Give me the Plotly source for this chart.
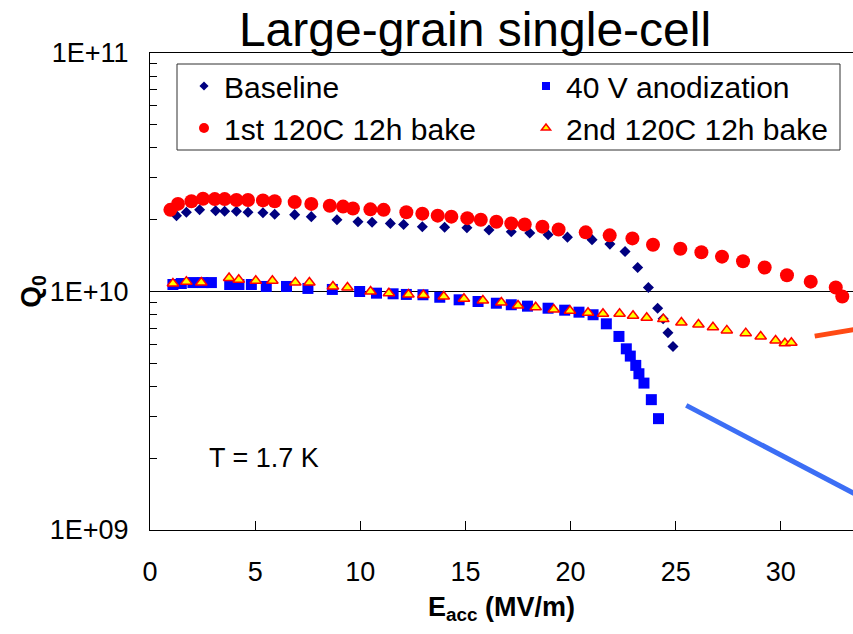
import plotly.graph_objects as go

# Accelerating field E_acc (MV/m) and quality factor Q0 for each treatment
e_base = [1.26, 1.73, 2.36, 3.12, 3.55, 4.11, 4.66, 5.37, 5.93, 6.88, 7.67, 8.89, 9.89,
          10.56, 11.43, 12.06, 12.95, 14.01, 15.07, 16.12, 17.18, 18.06, 18.93, 19.85,
          21.02, 21.87, 22.59, 23.19, 23.70, 24.14, 24.40, 24.63, 24.87]
q_base = [2.08e10, 2.15e10, 2.20e10, 2.18e10, 2.17e10, 2.17e10, 2.15e10, 2.14e10, 2.11e10,
          2.10e10, 2.06e10, 2.00e10, 1.96e10, 1.95e10, 1.93e10, 1.91e10, 1.87e10, 1.86e10,
          1.85e10, 1.81e10, 1.78e10, 1.76e10, 1.73e10, 1.69e10, 1.65e10, 1.58e10, 1.47e10,
          1.26e10, 1.04e10, 8.5e9, 7.68e9, 6.71e9, 5.88e9]

e_anod = [1.09, 1.49, 2.04, 2.52, 2.92, 3.79, 4.23, 4.82, 5.53, 6.49, 7.51, 8.67, 9.97,
          10.77, 11.56, 12.19, 12.98, 13.78, 14.70, 15.60, 16.47, 17.18, 17.95, 18.93,
          19.72, 20.40, 21.07, 21.70, 22.30, 22.65, 22.84, 23.10, 23.25, 23.49, 23.84, 24.18]
q_anod = [1.07e10, 1.08e10, 1.09e10, 1.09e10, 1.09e10, 1.07e10, 1.07e10, 1.07e10, 1.05e10,
          1.05e10, 1.03e10, 1.02e10, 1.00e10, 9.84e9, 9.78e9, 9.72e9, 9.69e9, 9.46e9, 9.23e9,
          9.08e9, 8.93e9, 8.80e9, 8.68e9, 8.51e9, 8.35e9, 8.19e9, 7.99e9, 7.32e9, 6.48e9,
          5.75e9, 5.36e9, 4.90e9, 4.52e9, 4.13e9, 3.52e9, 2.93e9]

e_bake1 = [0.97, 1.33, 1.97, 2.52, 3.08, 3.55, 4.11, 4.66, 5.37, 5.93, 6.88, 7.67, 8.55,
           9.18, 9.65, 10.48, 11.11, 12.19, 12.95, 13.68, 14.33, 15.09, 15.73, 16.47,
           17.18, 17.82, 18.66, 19.43, 20.72, 21.86, 22.94, 23.92, 25.22, 26.22, 27.20,
           28.20, 29.23, 30.29, 31.42, 32.61, 32.92]
q_bake1 = [2.20e10, 2.33e10, 2.39e10, 2.45e10, 2.44e10, 2.44e10, 2.42e10, 2.42e10, 2.41e10,
           2.39e10, 2.37e10, 2.33e10, 2.29e10, 2.27e10, 2.23e10, 2.21e10, 2.20e10, 2.15e10,
           2.12e10, 2.08e10, 2.06e10, 2.03e10, 2.00e10, 1.96e10, 1.93e10, 1.91e10, 1.87e10,
           1.82e10, 1.77e10, 1.72e10, 1.67e10, 1.57e10, 1.51e10, 1.46e10, 1.40e10, 1.34e10,
           1.26e10, 1.17e10, 1.10e10, 1.04e10, 9.53e9]

e_bake2 = [1.09, 1.73, 2.44, 3.76, 4.22, 5.03, 5.82, 6.91, 7.58, 8.70, 9.39, 10.49, 11.36,
           12.29, 13.00, 13.97, 14.93, 15.83, 16.71, 17.50, 18.34, 19.20, 19.97, 20.83,
           21.54, 22.33, 22.97, 23.62, 24.41, 25.27, 26.08, 26.77, 27.43, 28.33, 29.04,
           29.75, 30.19, 30.50]
q_bake2 = [1.08e10, 1.10e10, 1.09e10, 1.14e10, 1.12e10, 1.11e10, 1.11e10, 1.09e10, 1.09e10,
           1.05e10, 1.04e10, 1.00e10, 9.84e9, 9.72e9, 9.66e9, 9.53e9, 9.32e9, 9.17e9, 8.99e9,
           8.74e9, 8.59e9, 8.41e9, 8.30e9, 8.14e9, 8.07e9, 8.07e9, 7.91e9, 7.76e9, 7.66e9,
           7.41e9, 7.27e9, 7.08e9, 6.87e9, 6.69e9, 6.48e9, 6.23e9, 6.07e9, 6.10e9]

# Straight guide segments on the right-hand side
e_blue_seg = [25.50, 35.0]
q_blue_seg = [3.33e9, 1.21e9]
e_orange_seg = [31.61, 35.0]
q_orange_seg = [6.50e9, 7.29e9]

series_names = ["Baseline", "40 V anodization", "1st 120C 12h bake", "2nd 120C 12h bake"]

FONT = "Liberation Sans, Arial, sans-serif"

# Plot-area geometry in pixels (used to place legend and box in paper units)
PX_LEFT, PX_RIGHT, PX_TOP, PX_BOTTOM = 150, 853, 53, 530
def px_x(p):
    return (p - PX_LEFT) / (PX_RIGHT - PX_LEFT)
def px_y(p):
    return (PX_BOTTOM - p) / (PX_BOTTOM - PX_TOP)

fig = go.Figure()

fig.add_trace(go.Scatter(x=e_blue_seg, y=q_blue_seg, mode="lines",
                         line=dict(color="#3C6EF5", width=5), showlegend=False, hoverinfo="skip"))
fig.add_trace(go.Scatter(x=e_orange_seg, y=q_orange_seg, mode="lines",
                         line=dict(color="#FF4A14", width=5), showlegend=False, hoverinfo="skip"))

fig.add_trace(go.Scatter(x=e_base, y=q_base, mode="markers", name=series_names[0], showlegend=False,
                         marker=dict(symbol="diamond", size=8.5, color="#000080")))
fig.add_trace(go.Scatter(x=e_anod, y=q_anod, mode="markers", name=series_names[1], showlegend=False,
                         marker=dict(symbol="square", size=11, color="#0000FF")))
fig.add_trace(go.Scatter(x=e_bake1, y=q_bake1, mode="markers", name=series_names[2], showlegend=False,
                         marker=dict(symbol="circle", size=14, color="#FF0000")))
fig.add_trace(go.Scatter(x=e_bake2, y=q_bake2, mode="markers", name=series_names[3], showlegend=False,
                         marker=dict(symbol="triangle-up", size=10, color="#FFFF00",
                                     line=dict(color="#FF0000", width=1.5))))

# Legend entries (two columns) with smaller symbols
legend_markers = [
    dict(symbol="diamond", size=7, color="#000080"),
    dict(symbol="square", size=8, color="#0000FF"),
    dict(symbol="circle", size=10, color="#FF0000"),
    dict(symbol="triangle-up", size=8, color="#FFFF00", line=dict(color="#FF0000", width=1.5)),
]
legend_ids = ["legend", "legend2", "legend", "legend2"]
for name, mk, lg in zip(series_names, legend_markers, legend_ids):
    fig.add_trace(go.Scatter(x=[None], y=[None], mode="markers", name=name, marker=mk, legend=lg))

legend_common = dict(orientation="v", yanchor="top", xanchor="left", borderwidth=0,
                     bgcolor="rgba(0,0,0,0)", tracegroupgap=0, itemsizing="trace",
                     font=dict(size=30, family=FONT, color="black"))

fig.update_layout(
    width=853, height=634,
    margin=dict(l=PX_LEFT, r=0, t=PX_TOP, b=634 - PX_BOTTOM),
    paper_bgcolor="white", plot_bgcolor="white",
    font=dict(family=FONT, color="black"),
    title=dict(text="Large-grain single-cell", x=475 / 853, xanchor="center",
               y=1 - 29 / 634, yanchor="middle", yref="container",
               font=dict(size=48, family=FONT, color="black")),
    legend=dict(x=px_x(184), y=px_y(60), **legend_common),
    legend2=dict(x=px_x(526), y=px_y(60), **legend_common),
    shapes=[dict(type="rect", xref="paper", yref="paper", x0=px_x(177), x1=px_x(840),
                 y0=px_y(150), y1=px_y(64), line=dict(color="#303030", width=1),
                 fillcolor="white", layer="above")],
    xaxis=dict(range=[0, 33.43], tickvals=[0, 5, 10, 15, 20, 25, 30], ticks="inside", ticklen=9,
               tickcolor="black", showline=True, linecolor="black", linewidth=1, mirror=True,
               showgrid=False, zeroline=False, ticklabelstandoff=18,
               tickfont=dict(size=27, family=FONT, color="black"),
               title=dict(text="<b>E<sub>acc</sub> (MV/m)</b>", standoff=10,
                          font=dict(size=27, family=FONT, color="black"))),
    yaxis=dict(type="log", range=[9, 11], tickvals=[1e9, 1e10, 1e11],
               ticktext=["1E+09", "1E+10", "1E+11"], ticks="inside", ticklen=7, tickcolor="black",
               showline=True, linecolor="black", linewidth=1, mirror=False,
               showgrid=True, gridcolor="black", gridwidth=1, zeroline=False,
               ticklabelstandoff=15, tickfont=dict(size=27, family=FONT, color="black"),
               minor=dict(tickvals=[m * 10 ** p for p in (9, 10) for m in range(2, 10)],
                          ticks="inside", ticklen=7, tickcolor="black", showgrid=False),
               title=dict(text="<b>Q<sub>0</sub></b>", standoff=0,
                          font=dict(size=28, family=FONT, color="black"))),
    annotations=[dict(text="T = 1.7 K", xref="paper", yref="paper", x=px_x(264),
                      y=px_y(458), xanchor="center", yanchor="middle", showarrow=False,
                      font=dict(size=27, family=FONT, color="black"))],
)

fig.write_html("out.html")
